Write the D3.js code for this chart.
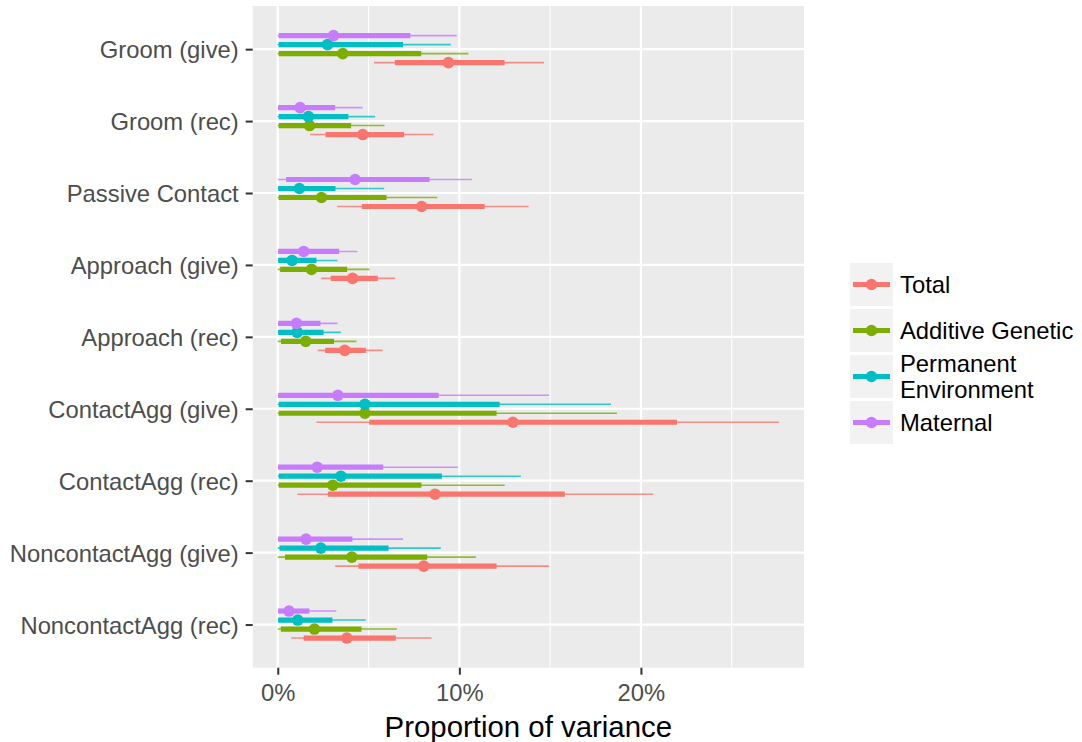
<!DOCTYPE html>
<html>
<head>
<meta charset="utf-8">
<script src="https://cdn.jsdelivr.net/npm/d3@7"></script>
<style>
  html, body { margin: 0; padding: 0; background: #fff; }
  svg { display: block; font-family: "Liberation Sans", Arial, Helvetica, sans-serif; }
</style>
</head>
<body>
<svg id="chart" width="1082" height="742"></svg>
<script>
// Behaviours, listed top to bottom
const behaviours = [
  "Groom (give)", "Groom (rec)", "Passive Contact", "Approach (give)", "Approach (rec)",
  "ContactAgg (give)", "ContactAgg (rec)", "NoncontactAgg (give)", "NoncontactAgg (rec)"
];

// Variance components (legend order)
const components = ["Total", "Additive Genetic", "Permanent Environment", "Maternal"];
const componentColors = ["#F8766D", "#7CAE00", "#00BFC4", "#C77CFF"];

// Per behaviour: [estimate, 50% low, 50% high, 95% low, 95% high], in percent
const total = [
  [9.40, 6.45, 12.49, 5.30, 14.66],
  [4.68, 2.63, 6.96, 1.78, 8.58],
  [7.92, 4.63, 11.39, 3.27, 13.81],
  [4.12, 2.92, 5.51, 2.39, 6.46],
  [3.69, 2.61, 4.85, 2.20, 5.77],
  [12.95, 5.04, 21.99, 2.13, 27.60],
  [8.66, 2.76, 15.81, 1.08, 20.67],
  [8.04, 4.44, 12.05, 3.16, 14.93],
  [3.80, 1.43, 6.50, 0.75, 8.47]
];
const additiveGenetic = [
  [3.58, 0.05, 7.90, 0, 10.50],
  [1.75, 0.05, 4.04, 0, 5.88],
  [2.41, 0.05, 5.99, 0, 8.78],
  [1.86, 0.13, 3.82, 0, 5.05],
  [1.54, 0.18, 3.10, 0, 4.33],
  [4.80, 0.05, 12.05, 0, 18.68],
  [3.03, 0.05, 7.91, 0, 12.50],
  [4.08, 0.40, 8.23, 0, 10.91],
  [2.02, 0.17, 4.61, 0, 6.56]
];
const permanentEnvironment = [
  [2.74, 0.05, 6.90, 0, 9.53],
  [1.69, 0.05, 3.89, 0, 5.36],
  [1.19, 0.02, 3.18, 0, 5.86],
  [0.79, 0.02, 2.13, 0, 3.29],
  [1.07, 0.02, 2.52, 0, 3.47],
  [4.80, 0.05, 12.22, 0, 18.35],
  [3.48, 0.05, 9.04, 0, 13.39],
  [2.37, 0.10, 6.10, 0, 8.98],
  [1.10, 0.02, 3.01, 0, 4.85]
];
const maternal = [
  [3.07, 0.05, 7.30, 0, 9.86],
  [1.23, 0.02, 3.16, 0, 4.67],
  [4.26, 0.46, 8.36, 0, 10.69],
  [1.43, 0.02, 3.38, 0, 4.39],
  [1.03, 0.02, 2.35, 0, 3.29],
  [3.31, 0.02, 8.86, 0, 14.94],
  [2.17, 0.02, 5.81, 0, 9.92],
  [1.56, 0.02, 4.11, 0, 6.90],
  [0.62, 0.02, 1.74, 0, 3.23]
];

const xTicks = [0, 10, 20];
const xTickLabels = ["0%", "10%", "20%"];
const xMinorTicks = [5, 15, 25];

const seriesValues = [total, additiveGenetic, permanentEnvironment, maternal];

const rows = [];
components.forEach((comp, ci) => {
  seriesValues[ci].forEach((v, bi) => {
    rows.push({
      behaviour: behaviours[bi], component: comp, color: componentColors[ci],
      est: v[0], lo50: v[1], hi50: v[2], lo95: v[3], hi95: v[4]
    });
  });
});

const svg = d3.select("#chart");
const panel = { left: 252.7, right: 804, top: 6, bottom: 667.7 };
const textSize = 23.8;

// x: percentages, with 5% expansion around the data range
const dataMax = d3.max(rows, d => d.hi95);
const dataMin = d3.min(rows, d => d.lo95);
const pad = (dataMax - dataMin) * 0.05;
const x = d3.scaleLinear().domain([dataMin - pad, dataMax + pad]).range([panel.left, panel.right]);

const y = d3.scalePoint().domain(behaviours).range([panel.top, panel.bottom]).padding(0.6);
const dodgeOrder = ["Maternal", "Permanent Environment", "Additive Genetic", "Total"];
const dodge = d3.scaleBand().domain(dodgeOrder).range([-y.step() * 0.25, y.step() * 0.25]);
const yPos = d => y(d.behaviour) + dodge(d.component) + dodge.bandwidth() / 2;

// panel background and grid
svg.append("rect")
  .attr("x", panel.left).attr("y", panel.top)
  .attr("width", panel.right - panel.left).attr("height", panel.bottom - panel.top)
  .attr("fill", "#EBEBEB");

const grid = svg.append("g");
grid.selectAll("line.minor").data(xMinorTicks).join("line")
  .attr("x1", d => x(d)).attr("x2", d => x(d))
  .attr("y1", panel.top).attr("y2", panel.bottom)
  .attr("stroke", "#fff").attr("stroke-width", 1.1);
grid.selectAll("line.majx").data(xTicks).join("line")
  .attr("x1", d => x(d)).attr("x2", d => x(d))
  .attr("y1", panel.top).attr("y2", panel.bottom)
  .attr("stroke", "#fff").attr("stroke-width", 2.2);
grid.selectAll("line.majy").data(behaviours).join("line")
  .attr("x1", panel.left).attr("x2", panel.right)
  .attr("y1", d => y(d)).attr("y2", d => y(d))
  .attr("stroke", "#fff").attr("stroke-width", 2.2);

// intervals and estimates
const marks = svg.append("g");
marks.selectAll("line.thin").data(rows).join("line")
  .attr("x1", d => x(d.lo95)).attr("x2", d => x(d.hi95))
  .attr("y1", yPos).attr("y2", yPos)
  .attr("stroke", d => d.color).attr("stroke-width", 1.6).attr("stroke-opacity", 0.8);
marks.selectAll("line.thick").data(rows).join("line")
  .attr("x1", d => x(d.lo50)).attr("x2", d => x(d.hi50))
  .attr("y1", yPos).attr("y2", yPos)
  .attr("stroke", d => d.color).attr("stroke-width", 5.2);
marks.selectAll("circle").data(rows).join("circle")
  .attr("cx", d => x(d.est)).attr("cy", yPos).attr("r", 5.8)
  .attr("fill", d => d.color);

// y axis
const yAxis = d3.axisLeft(y).tickSize(7).tickPadding(7);
const gy = svg.append("g").attr("transform", `translate(${panel.left},0)`).call(yAxis);
gy.select(".domain").remove();
gy.selectAll(".tick line").attr("stroke", "#333").attr("stroke-width", 2);
gy.selectAll(".tick text").attr("fill", "#4D4D4D").attr("font-size", textSize)
  .attr("font-family", "Liberation Sans, Arial, sans-serif").attr("dy", "0.36em");

// x axis
const xAxis = d3.axisBottom(x).tickValues(xTicks).tickFormat((d, i) => xTickLabels[i]).tickSize(7).tickPadding(9);
const gx = svg.append("g").attr("transform", `translate(0,${panel.bottom})`).call(xAxis);
gx.select(".domain").remove();
gx.selectAll(".tick line").attr("stroke", "#333").attr("stroke-width", 2);
gx.selectAll(".tick text").attr("fill", "#4D4D4D").attr("font-size", textSize)
  .attr("font-family", "Liberation Sans, Arial, sans-serif");

svg.append("text")
  .attr("x", (panel.left + panel.right) / 2).attr("y", 737)
  .attr("text-anchor", "middle").attr("font-size", 29.4).attr("fill", "#000")
  .text("Proportion of variance");

// legend
const legendLabels = [["Total"], ["Additive Genetic"], ["Permanent", "Environment"], ["Maternal"]];
const legend = svg.append("g").attr("transform", "translate(850,263)");
const item = legend.selectAll("g").data(components).join("g")
  .attr("transform", (d, i) => `translate(0,${i * 46})`);
item.append("rect").attr("width", 43).attr("height", 43).attr("fill", "#F2F2F2");
item.append("line").attr("x1", 3).attr("x2", 40).attr("y1", 21.5).attr("y2", 21.5)
  .attr("stroke", (d, i) => componentColors[i]).attr("stroke-width", 5.2);
item.append("circle").attr("cx", 21.5).attr("cy", 21.5).attr("r", 5.8)
  .attr("fill", (d, i) => componentColors[i]);
item.each(function(d, i) {
  const lines = legendLabels[i];
  const t = d3.select(this).append("text").attr("x", 50).attr("font-size", textSize).attr("fill", "#000");
  const lh = 26;
  const first = 21.5 + 8.5 - (lines.length - 1) * lh / 2;
  lines.forEach((ln, k) => t.append("tspan").attr("x", 50).attr("y", first + k * lh).text(ln));
});
</script>
</body>
</html>
